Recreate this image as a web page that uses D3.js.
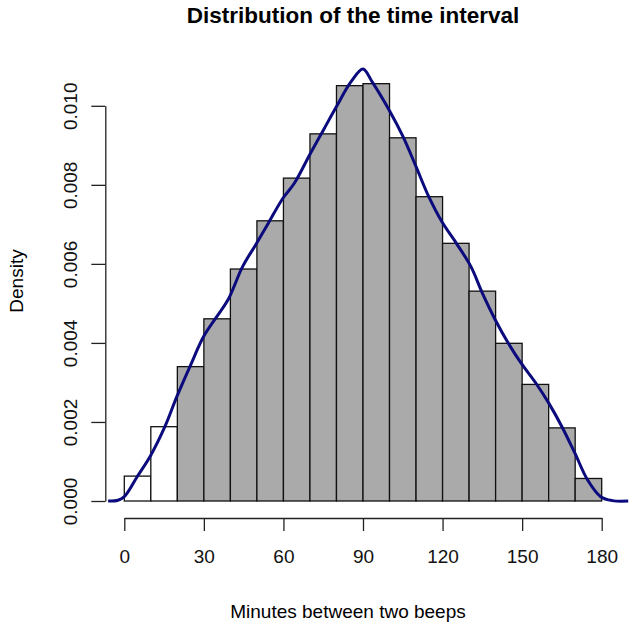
<!DOCTYPE html>
<html>
<head>
<meta charset="utf-8">
<script src="https://cdn.jsdelivr.net/npm/d3@7"></script>
<style>
  body { margin: 0; background: #fff; }
  svg { display: block; font-family: "Liberation Sans", Arial, sans-serif; }
</style>
</head>
<body>
<div id="chart"></div>
<script>
// Histogram bins (minutes) and densities
const binStarts = [0, 10, 20, 30, 40, 50, 60, 70, 80, 90, 100, 110, 120, 130, 140, 150, 160, 170];
const binWidth = 10;
const binDensity = [0.00063, 0.00188, 0.00340, 0.00461, 0.00587, 0.00709, 0.00817, 0.00929,
                    0.01051, 0.01056, 0.00919, 0.00770, 0.00652, 0.00531, 0.00399, 0.00295, 0.00185, 0.00057];
const binFill = ["white", "white", "#aaaaaa", "#aaaaaa", "#aaaaaa", "#aaaaaa", "#aaaaaa", "#aaaaaa", "#aaaaaa",
                 "#aaaaaa", "#aaaaaa", "#aaaaaa", "#aaaaaa", "#aaaaaa", "#aaaaaa", "#aaaaaa", "#aaaaaa", "#aaaaaa"];

// Kernel density curve
const curveX = [-6.1, -2.4, 0, 4.9, 10, 15.3, 19.8, 25, 29.9, 34.8, 39.1, 44.6, 49.5, 54.3, 59.8, 64.1, 70.2,
                75.1, 80, 85.5, 90, 93.4, 100.2, 105.1, 110, 114.8, 119.7, 125.2, 130.7, 135, 139.9,
                144.8, 149.7, 155.2, 160.1, 165, 169.9, 174.7, 179.6, 184, 190];
const curveY = [0, 0.00002, 0.00011, 0.00062, 0.00116, 0.00188, 0.00264, 0.00344, 0.00416, 0.00466, 0.00509,
                0.00593, 0.00648, 0.00703, 0.00766, 0.00804, 0.00880, 0.00939, 0.00998, 0.01061, 0.01093,
                0.01061, 0.00985, 0.00922, 0.00846, 0.00770, 0.00707, 0.00652, 0.00593, 0.00526, 0.00458,
                0.00399, 0.00348, 0.00298, 0.00247, 0.00188, 0.00121, 0.00053, 0.00011, 0.00001, 0];

const xTicks = [0, 30, 60, 90, 120, 150, 180];
const yTicks = [0, 0.002, 0.004, 0.006, 0.008, 0.010];

const width = 638, height = 628;

const svg = d3.select("#chart").append("svg")
    .attr("width", width)
    .attr("height", height);

const x = d3.scaleLinear().domain([0, 180]).range([124.3, 601.7]);
const y = d3.scaleLinear().domain([0, 0.010]).range([501, 105.8]);

// Bars
svg.selectAll(".bar")
    .data(binStarts)
    .enter().append("rect")
    .attr("class", "bar")
    .attr("x", d => x(d))
    .attr("y", (d, i) => y(binDensity[i]))
    .attr("width", d => x(d + binWidth) - x(d))
    .attr("height", (d, i) => y(0) - y(binDensity[i]))
    .attr("fill", (d, i) => binFill[i])
    .attr("stroke", "#111")
    .attr("stroke-width", 1.3);

// Density line
const line = d3.line()
    .x(d => x(d[0]))
    .y(d => y(d[1]))
    .curve(d3.curveCatmullRom);

svg.append("path")
    .datum(curveX.map((v, i) => [v, curveY[i]]))
    .attr("d", line)
    .attr("fill", "none")
    .attr("stroke", "#0b0b7d")
    .attr("stroke-width", 3);

// X axis
const xAxis = svg.append("g")
    .attr("transform", "translate(0,518)")
    .call(d3.axisBottom(x).tickValues(xTicks).tickSize(13).tickSizeOuter(0).tickPadding(19));

// Y axis
const yAxis = svg.append("g")
    .attr("transform", "translate(105.3,0)")
    .call(d3.axisLeft(y).tickValues(yTicks).tickSize(14).tickSizeOuter(0).tickFormat(d3.format(".3f")));

[xAxis, yAxis].forEach(g => {
    g.select(".domain").attr("stroke", "#222").attr("stroke-width", 1.3);
    g.selectAll(".tick line").attr("stroke", "#222").attr("stroke-width", 1.3);
    g.selectAll("text")
        .attr("fill", "#111")
        .style("font-size", "19px")
        .style("font-family", "'Liberation Sans', Arial, sans-serif");
});

// rotate y tick labels like R (reading upward)
yAxis.selectAll(".tick text")
    .attr("x", null).attr("dy", null)
    .attr("text-anchor", "middle")
    .attr("transform", "translate(-35,0) rotate(-90)")
    .attr("dy", "0.35em");

xAxis.selectAll(".tick text").attr("dy", "0.71em");

// Title
svg.append("text")
    .attr("x", 353)
    .attr("y", 23)
    .attr("text-anchor", "middle")
    .style("font-size", "22.5px")
    .style("font-weight", "bold")
    .text("Distribution of the time interval");

// X label
svg.append("text")
    .attr("x", 348)
    .attr("y", 618)
    .attr("text-anchor", "middle")
    .style("font-size", "19px")
    .text("Minutes between two beeps");

// Y label
svg.append("text")
    .attr("transform", "translate(23,281) rotate(-90)")
    .attr("text-anchor", "middle")
    .style("font-size", "19px")
    .text("Density");
</script>
</body>
</html>
